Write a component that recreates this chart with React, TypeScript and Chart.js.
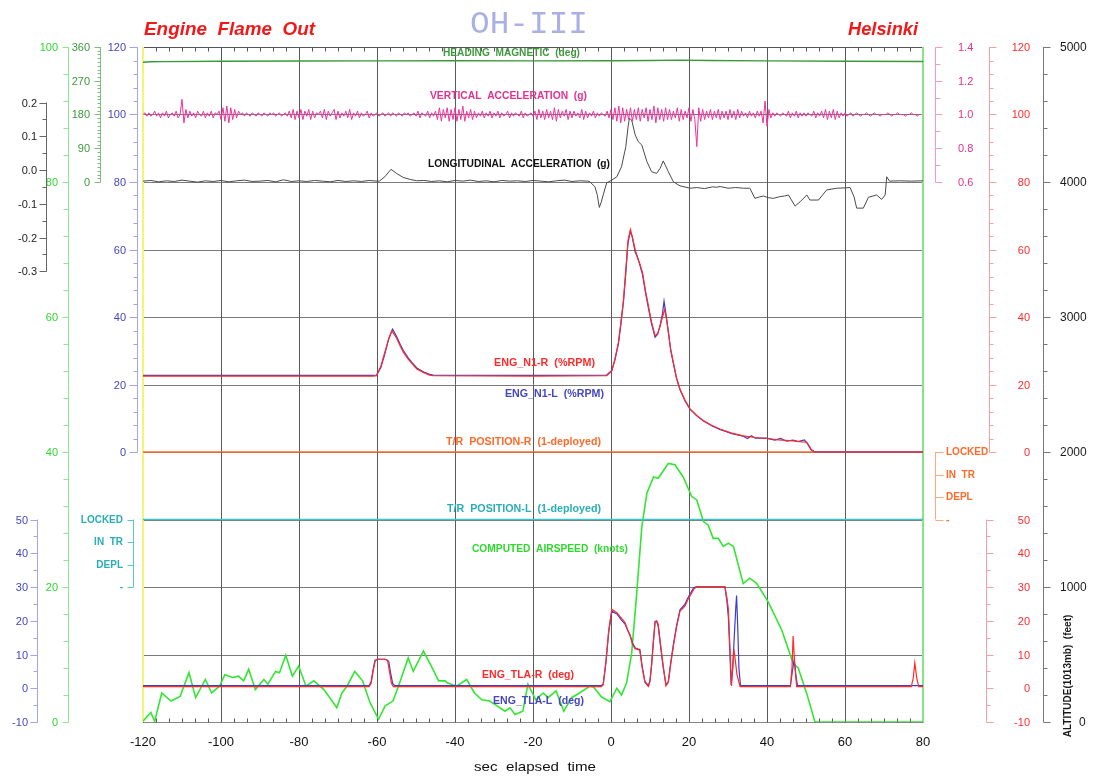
import React, { useEffect, useRef } from "react";
import { Chart, registerables } from "chart.js";
Chart.register(...registerables);

// ---------- data ----------
const X_MIN = -120;
const X_MAX = 80;
const X_TICKS = [-120, -100, -80, -60, -40, -20, 0, 20, 40, 60, 80];
const GRID_ROWS = [-60, -40, -20, 0, 20, 40, 60, 80, 100];

const HEADING: [number, number][] = [
  [-120, 319.5], [-118, 320.5], [-115, 321], [-100, 322], [-80, 322.5], [-60, 323], [-40, 323.5],
  [-20, 323], [0, 323.5], [10, 324], [18, 325], [25, 324], [40, 323], [60, 322], [80, 321.5],
];

const VERT_ACC_START = -120;
const VERT_ACC_STEP = 0.5;
const VERT_ACC: number[] = [
  1.00,1.01,0.99,1.01,0.99,1.00,1.02,0.99,1.01,0.98,
  1.01,0.99,1.02,0.98,1.00,1.01,0.99,1.02,0.98,1.00,
  1.09,0.95,1.03,0.98,1.02,0.99,1.01,0.98,1.02,1.00,
  0.99,1.02,0.98,1.01,0.99,1.02,0.98,1.01,1.00,1.02,
  0.97,1.04,0.96,1.05,0.95,1.04,0.97,1.03,0.98,1.02,
  1.00,1.01,0.99,1.01,1.00,0.99,1.01,1.00,0.99,1.01,
  1.00,0.99,1.01,1.00,0.99,1.01,1.00,1.01,0.99,1.00,
  1.01,0.99,1.00,1.01,0.99,1.02,0.98,1.03,0.97,1.02,
  0.98,1.03,0.97,1.02,0.99,1.03,0.97,1.02,0.98,1.01,
  1.00,1.02,0.98,1.03,0.97,1.02,0.99,1.01,1.03,0.97,
  1.02,0.98,1.01,0.99,1.02,0.98,1.03,0.97,1.01,0.99,
  1.02,0.98,1.01,0.99,1.00,1.02,0.98,1.01,0.99,1.00,
  1.01,0.99,1.00,1.01,0.99,1.00,1.01,0.99,1.01,1.00,
  0.99,1.01,1.00,0.99,1.01,1.00,1.01,0.99,1.00,1.01,
  0.99,1.02,0.98,1.01,1.00,0.99,1.02,0.98,1.01,0.99,
  1.02,0.97,1.04,0.96,1.03,0.98,1.04,0.96,1.03,0.97,
  1.04,0.96,1.03,0.97,1.05,0.96,1.02,0.98,1.03,0.97,
  1.02,0.98,1.01,0.99,1.02,0.98,1.01,0.99,1.02,0.98,
  1.01,0.99,1.02,0.98,1.01,0.99,1.00,1.02,0.98,1.01,
  0.99,1.01,1.00,0.99,1.02,0.98,1.01,0.99,1.00,1.01,
  0.99,1.02,0.97,1.03,0.98,1.02,0.97,1.03,0.98,1.02,
  0.97,1.04,0.96,1.03,0.98,1.02,0.99,1.03,0.97,1.02,
  0.98,1.02,0.99,1.01,0.98,1.03,0.97,1.02,0.98,1.01,
  0.99,1.02,0.98,1.01,0.99,1.01,1.00,0.99,1.02,0.98,
  1.03,0.97,1.04,0.96,1.05,0.95,1.04,0.96,1.03,0.97,
  1.04,0.96,1.03,0.97,1.04,0.96,1.03,0.98,1.04,0.96,
  1.03,0.97,1.05,0.95,1.04,0.97,1.03,0.96,1.04,0.97,
  1.03,0.97,1.02,0.98,1.04,0.96,1.03,0.97,1.02,0.98,
  1.04,0.96,1.03,0.97,0.81,1.04,0.96,1.03,0.97,1.02,
  0.98,1.03,0.97,1.02,0.98,1.03,0.97,1.02,0.98,1.02,
  0.97,1.03,0.98,1.02,0.97,1.03,0.98,1.02,0.99,1.01,
  0.98,1.02,0.99,1.01,0.98,1.02,0.99,1.02,0.95,1.08,
  0.93,1.03,0.98,1.01,0.99,1.01,1.00,0.99,1.01,1.00,
  0.99,1.02,0.98,1.01,0.99,1.02,0.98,1.01,0.99,1.01,
  0.99,1.01,1.00,0.99,1.02,0.98,1.01,0.99,1.02,0.98,
  1.03,0.97,1.02,0.98,1.03,0.97,1.02,0.98,1.01,0.99,
  1.01,0.99,1.00,1.01,0.99,1.00,1.01,1.00,0.99,1.00,
  1.00,1.01,1.00,0.99,1.00,1.01,1.00,1.00,0.99,1.00,
  1.00,1.00,1.01,1.00,0.99,1.00,1.00,1.01,1.00,1.00,
  1.00,0.99,1.00,1.00,1.01,1.00,1.00,0.99,1.00,1.00,
];

const LONG_ACC: [number, number][] = [
  [-120,-0.033],[-118,-0.031],[-116,-0.035],[-114,-0.032],[-112,-0.034],[-110,-0.030],[-108,-0.033],
  [-106,-0.036],[-104,-0.032],[-102,-0.034],[-100,-0.031],[-98,-0.035],[-96,-0.032],[-94,-0.030],
  [-92,-0.034],[-90,-0.033],[-88,-0.031],[-86,-0.035],[-84,-0.029],[-82,-0.034],[-80,-0.032],
  [-78,-0.034],[-76,-0.031],[-74,-0.033],[-72,-0.035],[-70,-0.031],[-68,-0.034],[-66,-0.032],
  [-64,-0.034],[-62,-0.031],[-60,-0.033],[-59.4,-0.033],[-58,-0.02],[-56.4,0.002],[-55,-0.010],
  [-53.3,-0.022],[-51.5,-0.028],[-49.8,-0.032],[-48,-0.031],[-46,-0.034],[-44,-0.032],[-42,-0.035],
  [-40,-0.031],[-38,-0.033],[-36,-0.030],[-34,-0.034],[-32,-0.032],[-30,-0.035],[-28,-0.031],
  [-26,-0.033],[-24,-0.032],[-22,-0.034],[-20,-0.031],[-18,-0.033],[-16,-0.035],[-14,-0.032],
  [-12,-0.030],[-10,-0.034],[-8,-0.032],[-6,-0.033],[-5.4,-0.035],[-4.1,-0.050],[-3.5,-0.075],
  [-3.0,-0.111],[-2.5,-0.095],[-2.0,-0.074],[-1.1,-0.038],[0.2,-0.030],[1.5,-0.020],[2.7,0.010],
  [3.8,0.069],[4.4,0.130],[4.7,0.153],[5.3,0.148],[6.2,0.104],[7.0,0.084],[7.9,0.074],[9.2,0.025],
  [10.4,-0.005],[11.7,-0.010],[12.6,0.005],[13.4,0.027],[14.7,-0.005],[16.0,-0.035],[17.7,-0.047],
  [20.3,-0.054],[22,-0.052],[24,-0.055],[26,-0.050],[27.1,-0.051],[28,-0.049],[30,-0.054],
  [32,-0.052],[34,-0.054],[35.6,-0.054],[36.9,-0.084],[38,-0.080],[39.1,-0.077],[40.3,-0.082],
  [41.6,-0.084],[43.3,-0.079],[44.5,-0.077],[45.5,-0.074],[47.2,-0.107],[48.5,-0.094],[50.2,-0.074],
  [51.0,-0.089],[53.2,-0.089],[55.3,-0.059],[57.9,-0.054],[60,-0.053],[61.3,-0.052],[62.3,-0.079],
  [63.0,-0.113],[64.7,-0.113],[66.0,-0.081],[68.1,-0.074],[69.4,-0.087],[70.3,-0.074],[70.7,-0.020],
  [71.4,-0.033],[74,-0.032],[77,-0.033],[80,-0.032],
];

const N1_R: [number, number][] = [
  [-120,22.5],[-61,22.5],[-60.1,22.6],[-59,25.5],[-58,29.5],[-57,33.5],[-56.2,35.9],[-55,33.8],
  [-54,31.3],[-53.2,29.5],[-52,27.5],[-51,26.2],[-49.8,24.6],[-48,23.5],[-46.5,22.8],[-45.6,22.6],
  [-20,22.5],[-1.1,22.6],[0.2,24.0],[1.0,27.5],[1.9,32.4],[2.5,38],[3.2,45.2],[3.8,54],[4.4,63],
  [5.0,65.9],[5.5,63.5],[6.2,60],[6.8,57.5],[7.3,56.1],[8.1,53.1],[8.8,48],[9.6,43.2],[10.4,38.5],
  [11.3,34.4],[12.0,35.2],[12.6,37.3],[13.2,40],[13.8,42.3],[14.3,39],[14.7,35.4],[15.3,30.5],
  [16.0,26.5],[16.8,22],[17.7,18.6],[19,15.3],[20.3,12.7],[22,10.8],[23.7,9.3],[25.8,7.9],
  [27.9,6.8],[31,5.6],[33.9,4.8],[37,4.3],[39.9,4.0],[43,3.6],[46.7,3.3],[49,3.0],[50.2,2.9],
  [51.0,1.5],[51.5,0.4],[52.3,0],[80,0],
];

const N1_L: [number, number][] = [
  [-120,22.7],[-61,22.7],[-60.1,22.8],[-59,25.0],[-58,29.0],[-57,33.5],[-56.0,36.4],[-55,34.3],
  [-54,31.8],[-53.2,30.0],[-52,27.9],[-51,26.5],[-49.8,24.9],[-48,23.7],[-46.5,23.0],[-45.6,22.8],
  [-20,22.7],[-1.1,22.8],[0.2,24.2],[1.0,27.2],[1.9,32.0],[2.5,37.5],[3.2,44.5],[3.8,53],[4.3,61.5],
  [4.9,65.2],[5.4,64.0],[6.2,59.2],[6.8,57.8],[7.3,55.8],[8.1,52.5],[8.8,47.5],[9.6,42.6],[10.4,38.0],
  [11.3,34.0],[12.0,35.0],[12.6,37.6],[13.2,41],[13.6,44.7],[14.0,41.5],[14.7,35.8],[15.3,30.2],
  [16.0,26.2],[16.8,21.8],[17.7,18.4],[19,15.1],[20.3,12.6],[22,10.7],[23.7,9.2],[25.8,7.8],
  [27.9,6.7],[31,5.4],[33.9,4.7],[35,4.0],[36,4.8],[37,4.1],[39.9,4.1],[42,3.5],[43.5,4.0],[45,3.2],
  [46.7,3.5],[48,3.1],[49.6,3.6],[50.4,2.4],[51.2,0.8],[52,0.2],[52.8,0],[80,0],
];

const TR_R: [number, number][] = [[-120, 0], [80, 0]];
const TR_L: [number, number][] = [[-120, 0], [80, 0]];

const AIRSPEED: [number, number][] = [
  [-120,0.1],[-118,1.4],[-117,0.1],[-115.2,4.3],[-112.8,3.1],[-110.5,3.8],[-108.2,7.3],[-106.5,3.6],
  [-104,6.3],[-102.4,4.3],[-100.4,5.3],[-99,7.0],[-97,6.6],[-95.5,6.8],[-94.2,6.1],[-92.9,7.8],
  [-91.2,4.8],[-89,6.3],[-88,5.6],[-86,7.5],[-85,7.3],[-83.4,9.9],[-81.7,6.8],[-80.1,8.3],[-78.2,5.3],
  [-76.2,6.1],[-73.6,4.8],[-70.3,2.1],[-69,4.3],[-67.7,5.3],[-65.7,7.5],[-63.7,6.1],[-61.8,2.9],
  [-59.6,0.4],[-57.9,2.4],[-55.9,3.1],[-54.6,5.1],[-52,9.5],[-50.7,7.5],[-48.1,10.5],[-46.1,8.3],
  [-44.2,6.1],[-42.5,6.1],[-42,5.8],[-39.6,5.3],[-37,6.3],[-35,4.3],[-33.1,3.3],[-31.1,3.1],
  [-29.2,2.4],[-27.2,1.6],[-25.9,2.1],[-24.6,1.1],[-22.6,1.6],[-21.3,5.6],[-19.3,3.3],[-17.4,4.3],
  [-16.1,3.6],[-14.1,4.6],[-12.1,1.6],[-10.1,3.6],[-8.1,4.3],[-5.5,5.3],[-4.5,5.2],[-2.4,3.7],
  [-0.3,3.0],[1.5,5.0],[2.7,4.0],[4.0,5.8],[5.3,10.2],[6.6,19.1],[7.9,28.9],[9.2,33.9],[10.9,36.3],
  [12.1,36.1],[14.7,38.3],[16.4,38.1],[18.5,36.3],[20.7,33.4],[22,32.9],[23.7,29.7],[24.9,29.2],
  [26.2,27.2],[27.5,27.2],[28.8,26.0],[30.1,26.5],[31.4,26],[33.9,20.5],[35.6,21.3],[37.4,20.5],
  [40.3,17.8],[43.8,13.6],[46.7,8.7],[48,8.0],[50.2,4.2],[52.3,0],[80,0],
];

const TLA_R: [number, number][] = [
  [-120,0.5],[-62,0.5],[-61.5,1.5],[-61,5],[-60.5,8.0],[-60,8.6],[-58,8.6],[-57.3,8.3],[-56.8,5],
  [-56.3,1.5],[-55.8,0.5],[-2.5,0.5],[-2.0,1.0],[-1.3,8],[-0.6,17],[0.2,23.4],[1.5,22.4],[2.5,21],
  [3.6,19.5],[4.2,17.5],[4.9,15.5],[5.5,13],[6.2,11.6],[6.8,11.8],[7.4,11.1],[8.0,6],[8.7,1.7],
  [9.6,0.5],[10.0,2],[10.4,6.6],[10.9,14],[11.3,19.5],[11.7,20],[12.1,19],[12.7,13],[13.4,6.6],
  [14.1,0.7],[14.7,1.8],[15.3,7],[16.0,12.5],[16.8,18],[17.7,22.9],[18.3,23.5],[19.0,24.4],
  [19.6,26],[20.3,27.4],[21.2,29.3],[22.0,30.1],[29.2,30.1],[29.7,27],[30.1,23.4],[30.5,12],
  [30.9,0.7],[31.2,6],[31.5,11.6],[31.8,9],[32.3,4],[33.1,0.5],[46.0,0.5],[46.4,6],[46.7,15.5],
  [47.1,7],[47.6,0.5],[77.0,0.5],[77.5,3],[77.9,7.5],[78.4,3],[78.9,0.5],[80,0.5],
];

const TLA_L: [number, number][] = [
  [-120,0.8],[-62,0.8],[-61.5,2],[-61,5.5],[-60.5,8.3],[-59.8,8.6],[-57.8,8.6],[-57.0,8.0],[-56.5,4.5],
  [-56,1.5],[-55.5,0.8],[-2.5,0.8],[-2.0,1.2],[-1.3,7.5],[-0.6,16.5],[0.2,22.8],[1.5,22.0],[2.5,20.5],
  [3.6,19.0],[4.2,17.3],[4.9,15.8],[5.5,13.5],[6.2,12.0],[6.8,11.5],[7.4,11.5],[8.0,6.5],[8.7,2.0],
  [9.6,0.8],[10.0,2.5],[10.4,7],[10.9,14.5],[11.3,19.8],[11.7,19.8],[12.1,18.5],[12.7,12.5],[13.4,6.0],
  [14.1,1.0],[14.7,2.0],[15.3,7.5],[16.0,13],[16.8,18.5],[17.7,23.3],[18.3,24.0],[19.0,25],[19.6,26.5],
  [20.3,28],[21.2,29.8],[22.0,30.1],[29.2,30.1],[29.7,26],[30.1,21],[30.5,10],[30.8,1],[31.2,6],
  [31.6,15],[32.0,24],[32.2,27.5],[32.5,18],[32.8,6],[33.2,0.8],[46.0,0.8],[46.5,5],[47.0,8.6],
  [47.4,4],[47.8,0.8],[80,0.8],
];

// axis tick values / labels
const AIRSPEED_TICKS = [0, 20, 40, 60, 80, 100];
const HEADING_TICKS = [0, 90, 180, 270, 360];
const N1_TICKS = [0, 20, 40, 60, 80, 100, 120];
const LONG_ACC_TICKS = [-0.3, -0.2, -0.1, 0, 0.1, 0.2];
const TLA_TICKS = [-10, 0, 10, 20, 30, 40, 50];
const TR_TICKS = [0, 1, 2, 3];
const TR_TICK_LABELS = ["LOCKED", "IN  TR", "DEPL", "-"];
const VERT_ACC_TICKS = [0.6, 0.8, 1.0, 1.2, 1.4];
const ALT_TICKS = [0, 1000, 2000, 3000, 4000, 5000];

const FONT = '"Liberation Sans", Arial, Helvetica, sans-serif';

// ---------- drawing helpers ----------
type AxisCfg = {
  x: number; from: number; to: number; majors: number[]; labels?: string[]; fmt?: (v: number) => string;
  minor?: number; dir: number; majLen?: number; minLen?: number; line: string; color: string;
  labelX: number; align: CanvasTextAlign; font?: string; labelXFor?: (v: number) => number | undefined;
};

function drawAxis(ctx: CanvasRenderingContext2D, scale: any, c: AxisCfg) {
  const majLen = c.majLen ?? 6;
  const minLen = c.minLen ?? 3;
  const X = Math.round(c.x) + 0.5;
  ctx.save();
  ctx.lineWidth = 1;
  ctx.strokeStyle = c.line;
  ctx.beginPath();
  ctx.moveTo(X, scale.getPixelForValue(c.from));
  ctx.lineTo(X, scale.getPixelForValue(c.to));
  ctx.stroke();
  if (c.minor) {
    const n = Math.round((c.to - c.from) / c.minor);
    for (let i = 0; i <= n; i++) {
      const v = c.from + i * c.minor;
      const y = Math.round(scale.getPixelForValue(v)) + 0.5;
      ctx.beginPath();
      ctx.moveTo(X, y);
      ctx.lineTo(X + c.dir * minLen, y);
      ctx.stroke();
    }
  }
  ctx.font = c.font ?? `11px ${FONT}`;
  ctx.fillStyle = c.color;
  ctx.textAlign = c.align;
  ctx.textBaseline = "middle";
  c.majors.forEach((v, i) => {
    const y = Math.round(scale.getPixelForValue(v)) + 0.5;
    ctx.beginPath();
    ctx.moveTo(X, y);
    ctx.lineTo(X + c.dir * majLen, y);
    ctx.stroke();
    const txt = c.labels ? c.labels[i] : c.fmt ? c.fmt(v) : String(v);
    const lx = (c.labelXFor && c.labelXFor(v)) ?? c.labelX;
    ctx.fillText(txt, lx, y);
  });
  ctx.restore();
}

function fitText(ctx: CanvasRenderingContext2D, text: string, x0: number, x1: number, y: number, font: string, color: string) {
  ctx.save();
  ctx.font = font;
  const w = ctx.measureText(text).width;
  ctx.translate(x0, y);
  ctx.scale((x1 - x0) / w, 1);
  ctx.fillStyle = color;
  ctx.textAlign = "left";
  ctx.textBaseline = "middle";
  ctx.fillText(text, 0, 0);
  ctx.restore();
}

const fdrPlugin = {
  id: "fdrDecor",
  beforeDatasetsDraw(chart: any) {
    const ctx: CanvasRenderingContext2D = chart.ctx;
    const xs = chart.scales.x;
    const yg = chart.scales.yN1;
    const { left, right, top, bottom } = chart.chartArea;
    ctx.save();
    ctx.lineWidth = 1;
    // horizontal grid
    ctx.strokeStyle = "#7a7a7a";
    GRID_ROWS.forEach((v) => {
      const y = Math.round(yg.getPixelForValue(v)) + 0.5;
      ctx.beginPath(); ctx.moveTo(left, y); ctx.lineTo(right, y); ctx.stroke();
    });
    // vertical grid
    ctx.strokeStyle = "#5a5a5a";
    X_TICKS.slice(1, -1).forEach((v) => {
      const x = Math.round(xs.getPixelForValue(v)) + 0.5;
      ctx.beginPath(); ctx.moveTo(x, top); ctx.lineTo(x, bottom); ctx.stroke();
    });
    // top / bottom borders with minor ticks
    ctx.strokeStyle = "#555";
    const yt = Math.round(top) + 0.5, yb = Math.round(bottom) + 0.5;
    ctx.beginPath(); ctx.moveTo(left, yt); ctx.lineTo(right, yt); ctx.stroke();
    ctx.strokeStyle = "#888";
    ctx.beginPath(); ctx.moveTo(left, yb); ctx.lineTo(right, yb); ctx.stroke();
    ctx.strokeStyle = "#555";
    for (let i = 0; i <= 60; i++) {
      const x = Math.round(xs.getPixelForValue(X_MIN + (i * 10) / 3)) + 0.5;
      ctx.beginPath(); ctx.moveTo(x, yt); ctx.lineTo(x, yt + 4); ctx.stroke();
      ctx.beginPath(); ctx.moveTo(x, yb); ctx.lineTo(x, yb - 4); ctx.stroke();
    }
    // left (yellow) and right (green) borders
    ctx.lineWidth = 2;
    ctx.strokeStyle = "#f4f47a";
    const xl = xs.getPixelForValue(X_MIN);
    ctx.beginPath(); ctx.moveTo(xl, top); ctx.lineTo(xl, bottom); ctx.stroke();
    ctx.strokeStyle = "#86e686";
    const xr = xs.getPixelForValue(X_MAX);
    ctx.beginPath(); ctx.moveTo(xr, top); ctx.lineTo(xr, bottom); ctx.stroke();
    ctx.restore();
  },
  afterDatasetsDraw(chart: any) {
    const ctx: CanvasRenderingContext2D = chart.ctx;
    const s = chart.scales;
    const xs = s.x;
    const f1 = (v: number) => (Math.abs(v) < 1e-9 ? "0.0" : v.toFixed(1));

    // ----- left axes -----
    drawAxis(ctx, s.yAS, { x: 68, from: 0, to: 100, majors: AIRSPEED_TICKS, minor: 4, dir: -1, majLen: 6, minLen: 5,
      line: "#8fe88f", color: "#2fd82f", labelX: 58, align: "right" });
    drawAxis(ctx, s.yHdg, { x: 100, from: 0, to: 360, majors: HEADING_TICKS, minor: 10, dir: -1, majLen: 6, minLen: 3,
      line: "#7cbf7c", color: "#3f963f", labelX: 90, align: "right" });
    drawAxis(ctx, s.yN1, { x: 137, from: 0, to: 120, majors: N1_TICKS, minor: 4, dir: -1, majLen: 8, minLen: 4,
      line: "#a4a4e6", color: "#4646b8", labelX: 126, align: "right" });
    drawAxis(ctx, s.yLA, { x: 46, from: -0.3, to: 0.2, majors: LONG_ACC_TICKS, minor: 0.05, dir: -1, majLen: 7, minLen: 4,
      line: "#666", color: "#222", labelX: 37, align: "right", fmt: f1 });
    drawAxis(ctx, s.yTLA, { x: 37, from: -10, to: 50, majors: TLA_TICKS, minor: 5, dir: -1, majLen: 7, minLen: 4,
      line: "#a4a4e6", color: "#4646b8", labelX: 28, align: "right" });
    drawAxis(ctx, s.yTRL, { x: 133, from: 0, to: 3, majors: TR_TICKS, labels: TR_TICK_LABELS, dir: -1, majLen: 6,
      line: "#5cc6cc", color: "#2aaeb6", labelX: 123, align: "right", font: `bold 10px ${FONT}` });

    // ----- right axes -----
    drawAxis(ctx, s.yVA, { x: 935, from: 0.6, to: 1.4, majors: VERT_ACC_TICKS, minor: 0.1, dir: 1, majLen: 7, minLen: 5,
      line: "#f59cc6", color: "#e2328f", labelX: 958, align: "left", fmt: f1 });
    drawAxis(ctx, s.yTRR, { x: 935, from: 0, to: 3, majors: TR_TICKS, labels: TR_TICK_LABELS, dir: 1, majLen: 8,
      line: "#ffab7e", color: "#ff6a2a", labelX: 946, align: "left", font: `bold 10px ${FONT}` });
    drawAxis(ctx, s.yN1R, { x: 989, from: 0, to: 120, majors: N1_TICKS, minor: 4, dir: 1, majLen: 7, minLen: 4,
      line: "#f2a2a2", color: "#ff2a2a", labelX: 1030, align: "right" });
    drawAxis(ctx, s.yTLA, { x: 986, from: -10, to: 50, majors: TLA_TICKS, minor: 5, dir: 1, majLen: 7, minLen: 4,
      line: "#f2a2a2", color: "#ff2a2a", labelX: 1030, align: "right" });
    drawAxis(ctx, s.yAlt, { x: 1043, from: 0, to: 5000, majors: ALT_TICKS, minor: 200, dir: 1, majLen: 7, minLen: 4,
      line: "#777", color: "#1a1a1a", labelX: 1060, align: "left", font: `12px ${FONT}`,
      labelXFor: (v) => (v === 0 ? 1079 : undefined) });

    // altitude axis title
    ctx.save();
    ctx.translate(1068, 676);
    ctx.rotate(-Math.PI / 2);
    ctx.font = `bold 10px ${FONT}`;
    ctx.fillStyle = "#1a1a1a";
    ctx.textAlign = "center";
    ctx.textBaseline = "middle";
    ctx.fillText("ALTITUDE(1013mb)  (feet)", 0, 0);
    ctx.restore();

    // x tick labels
    ctx.save();
    ctx.font = `13px ${FONT}`;
    ctx.fillStyle = "#111";
    ctx.textAlign = "center";
    ctx.textBaseline = "middle";
    X_TICKS.forEach((v) => ctx.fillText(String(v), xs.getPixelForValue(v), 742));
    ctx.restore();
    fitText(ctx, "sec  elapsed  time", 474, 596, 767, `13px ${FONT}`, "#111");

    // titles
    fitText(ctx, "Engine  Flame  Out", 144, 315, 30, `italic bold 18px ${FONT}`, "#f21818");
    fitText(ctx, "Helsinki", 848, 918, 30, `italic bold 18px ${FONT}`, "#f21818");
    fitText(ctx, "OH-III", 470, 588, 25, `32px "Liberation Mono", "DejaVu Sans Mono", monospace`, "#aab0e6");

    // trace labels
    const lf = `bold 10px ${FONT}`;
    fitText(ctx, "HEADING  MAGNETIC  (deg)", 443, 580, 53, lf, "#3f9a3f");
    fitText(ctx, "VERTICAL  ACCELERATION  (g)", 430, 587, 96, lf, "#e2328f");
    fitText(ctx, "LONGITUDINAL  ACCELERATION  (g)", 428, 610, 164, lf, "#111");
    fitText(ctx, "ENG_N1-R  (%RPM)", 494, 595, 363, lf, "#ff2a2a");
    fitText(ctx, "ENG_N1-L  (%RPM)", 505, 604, 394, lf, "#4646c0");
    fitText(ctx, "T/R  POSITION-R  (1-deployed)", 446, 601, 442, lf, "#ff6a2a");
    fitText(ctx, "T/R  POSITION-L  (1-deployed)", 447, 601, 509, lf, "#2aaeb6");
    fitText(ctx, "COMPUTED  AIRSPEED  (knots)", 472, 628, 549, lf, "#2fd82f");
    fitText(ctx, "ENG_TLA-R  (deg)", 482, 574, 675, lf, "#ff2a2a");
    fitText(ctx, "ENG_TLA-L  (deg)", 493, 584, 701, lf, "#4646c0");
  },
};

const pts = (arr: [number, number][]) => arr.map(([x, y]) => ({ x, y }));

export default function App() {
  const ref = useRef<HTMLCanvasElement>(null);
  useEffect(() => {
    if (!ref.current) return;
    const vaData = VERT_ACC.map((v, i) => ({ x: VERT_ACC_START + i * VERT_ACC_STEP, y: v }));
    const line = (data: any[], color: string, axis: string, width = 1.2) => ({
      data, borderColor: color, backgroundColor: color, borderWidth: width, pointRadius: 0,
      pointHoverRadius: 0, fill: false, tension: 0, yAxisID: axis, xAxisID: "x",
    });
    const hidden = (min: number, max: number, reverse = false) => ({ type: "linear" as const, min, max, reverse, display: false });
    const laMax = ((170 - 47) / 67.5) * 0.2;
    const chart = new Chart(ref.current, {
      type: "line",
      data: {
        datasets: [
          line(pts(N1_R), "#ff2a2a", "yN1R"),
          line(pts(N1_L), "#3c3cc8", "yN1"),
          line(pts(TLA_R), "#ff2a2a", "yTLA"),
          line(pts(TLA_L), "#3c3cd0", "yTLA"),
          line(vaData, "#ee3399", "yVA", 1),
          line(pts(LONG_ACC), "#4a4a4a", "yLA", 1),
          line(pts(HEADING), "#3a9a3a", "yHdg", 1.4),
          line(pts(TR_R), "#ff6a2a", "yTRR", 1.4),
          line(pts(TR_L), "#3cc4c8", "yTRL", 1.4),
          line(pts(AIRSPEED), "#33e633", "yAS", 1.6),
        ] as any,
      },
      options: {
        animation: false,
        responsive: true,
        maintainAspectRatio: false,
        devicePixelRatio: 1,
        layout: { padding: { left: 143, right: 172, top: 47, bottom: 54 } },
        plugins: { legend: { display: false }, tooltip: { enabled: false }, title: { display: false } },
        events: [],
        scales: {
          x: { type: "linear", min: X_MIN, max: X_MAX, display: false },
          yN1: hidden(-80, 120),
          yN1R: hidden(-80, 120),
          yHdg: hidden(-1440, 360),
          yVA: hidden(-2.6, 1.4),
          yLA: hidden(laMax - 2, laMax),
          yAS: hidden(0, 100),
          yTLA: hidden(-10, 190),
          yTRR: hidden(-18, 12, true),
          yTRL: hidden(-21, 9, true),
          yAlt: hidden(0, 5000),
        },
      } as any,
      plugins: [fdrPlugin],
    });
    return () => chart.destroy();
  }, []);
  return (
    <div style={{ position: "fixed", left: 0, top: 0, width: 1095, height: 776, background: "#fff" }}>
      <canvas ref={ref} />
    </div>
  );
}
